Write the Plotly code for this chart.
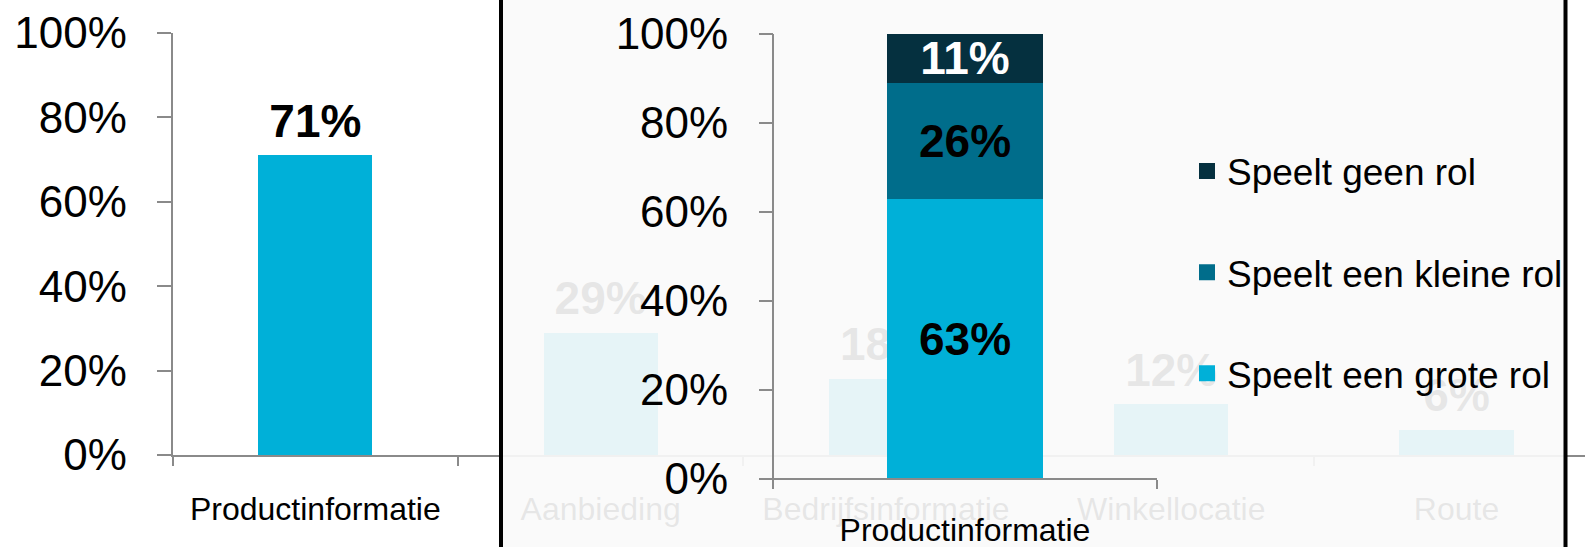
import plotly.graph_objects as go

W, H = 1585, 547

# ---- data ----
categories = ["Productinformatie", "Aanbieding", "Bedrijfsinformatie", "Winkellocatie", "Route"]
values = [71, 29, 18, 12, 6]

stack_categories = ["Productinformatie"]
series_names = ["Speelt een grote rol", "Speelt een kleine rol", "Speelt geen rol"]
speelt_grote = [63]
speelt_kleine = [26]
speelt_geen = [11]

y_tick_vals = [0, 20, 40, 60, 80, 100]
y_tick_text = ["0%", "20%", "40%", "60%", "80%", "100%"]

# ---- style / layout geometry (pixels) ----
FONT = "Liberation Sans, Arial, sans-serif"
CYAN = "#00B0D8"
TEAL = "#006D8B"
DARK = "#05303F"
AXIS = "#8A8A8A"

PANEL_L, PANEL_R = 501, 1565.5           # overlay panel
ST_L, ST_R = 773, 1157                    # stacked chart x-extent
ST_Y0, ST_Y100 = 479, 34                  # stacked chart 0% / 100%


def fx(p):
    return p / W


def fy(p):
    return 1 - p / H


# ranges for the stacked chart axes (they overlay the panel subplot)
_unit = ST_R - ST_L
x3_r0 = -0.5 - (ST_L - PANEL_L) / _unit
x3_range = [x3_r0, x3_r0 + (PANEL_R - PANEL_L) / _unit]
_f0, _f100 = fy(ST_Y0), fy(ST_Y100)
_R = 100 / (_f100 - _f0)
y3_range = [-_f0 * _R, -_f0 * _R + _R]

fig = go.Figure()

# background chart (main)
fig.add_trace(go.Bar(
    x=categories, y=values,
    marker=dict(color=CYAN, line=dict(width=0)),
    width=0.4, xaxis="x", yaxis="y", showlegend=False, hoverinfo="skip",
))
# value labels above the bars
fig.add_trace(go.Scatter(
    x=categories, y=values, mode="markers+text",
    text=[f"{v}%" for v in values], textposition="top center",
    textfont=dict(size=46, color="black", family=FONT, weight="bold"),
    marker=dict(size=10, opacity=0),
    xaxis="x", yaxis="y", showlegend=False, hoverinfo="skip",
))

# overlay panel subplot (its background veils the chart beneath)
fig.add_trace(go.Scatter(x=[None], y=[None], xaxis="x2", yaxis="y2",
                         showlegend=False, hoverinfo="skip"))

# stacked detail chart
stack_series = [speelt_grote, speelt_kleine, speelt_geen]
stack_colors = [CYAN, TEAL, DARK]
stack_text_colors = ["black", "black", "white"]
ranks = [3, 2, 1]
for name, vals, col, tcol, rk in zip(series_names, stack_series, stack_colors,
                                     stack_text_colors, ranks):
    fig.add_trace(go.Bar(
        x=stack_categories, y=vals, name=name, legendgroup=name, showlegend=False,
        text=[f"{v}%" for v in vals], textposition="inside", insidetextanchor="middle",
        constraintext="none",
        textfont=dict(size=46, color=tcol, family=FONT, weight="bold"),
        marker=dict(color=col, line=dict(width=0)),
        width=0.404, xaxis="x3", yaxis="y3", hoverinfo="skip",
    ))
    # legend entry (square swatch)
    fig.add_trace(go.Scatter(
        x=[None], y=[None], mode="markers", name=name, legendgroup=name, legendrank=rk,
        marker=dict(symbol="square", size=19, color=col),
        xaxis="x3", yaxis="y3", hoverinfo="skip",
    ))

hidden_axis = dict(showline=False, showgrid=False, zeroline=False, ticks="",
                   showticklabels=False, fixedrange=True, automargin=False)

fig.update_layout(
    template="none",
    width=W, height=H, autosize=False,
    margin=dict(l=0, r=0, t=0, b=0, pad=0),
    paper_bgcolor="white",
    plot_bgcolor="rgba(250,250,250,0.92)",
    font=dict(family=FONT, color="black"),
    barmode="stack",
    showlegend=True,
    legend=dict(
        x=fx(1187), xanchor="left", y=fy(272.5), yanchor="middle",
        font=dict(size=37, color="black", family=FONT),
        bgcolor="rgba(0,0,0,0)", borderwidth=0,
        traceorder="grouped", tracegroupgap=50, itemsizing="trace",
    ),
    xaxis=dict(
        domain=[fx(172.7), 1.0], anchor="y", type="category", automargin=False,
        range=[-0.5, -0.5 + (W - 172.7) / 285.3],
        tickson="boundaries", ticks="outside", ticklen=9, tickwidth=2, tickcolor=AXIS,
        showline=True, linecolor=AXIS, linewidth=2, showgrid=False, zeroline=False,
        tickfont=dict(size=32, color="black"), ticklabelstandoff=25,
    ),
    yaxis=dict(
        domain=[fy(455), fy(33)], anchor="x", range=[0, 100], automargin=False,
        tickvals=y_tick_vals, ticktext=y_tick_text,
        ticks="outside", ticklen=14, tickwidth=2, tickcolor=AXIS,
        showline=True, linecolor=AXIS, linewidth=2, showgrid=False, zeroline=False,
        tickfont=dict(size=44, color="black"), ticklabelstandoff=21,
    ),
    xaxis2=dict(domain=[fx(PANEL_L), fx(PANEL_R)], anchor="y2", range=[0, 1], **hidden_axis),
    yaxis2=dict(domain=[0, 1], anchor="x2", range=[0, 1], **hidden_axis),
    xaxis3=dict(
        overlaying="x2", anchor="free", position=fy(ST_Y0), type="category",
        range=x3_range, automargin=False, fixedrange=True,
        tickson="boundaries", ticks="outside", ticklen=9, tickwidth=2, tickcolor=AXIS,
        showline=False, showgrid=False, zeroline=False,
        tickfont=dict(size=32, color="black"), ticklabelstandoff=29,
    ),
    yaxis3=dict(
        overlaying="y2", anchor="free", position=fx(ST_L), side="left",
        range=y3_range, automargin=False, fixedrange=True,
        tickvals=y_tick_vals, ticktext=y_tick_text,
        ticks="outside", ticklen=14, tickwidth=2, tickcolor=AXIS,
        showline=False, showgrid=False, zeroline=False,
        tickfont=dict(size=44, color="black"), ticklabelstandoff=22,
    ),
    shapes=[
        # white page behind the main chart (keeps its plot area white)
        dict(type="rect", xref="paper", yref="paper", x0=0, x1=1, y0=0, y1=1,
             line=dict(width=0), fillcolor="white", layer="below"),
        # axis lines of the stacked chart, in its own data coordinates
        dict(type="line", xref="x3", yref="y3", x0=-0.5, x1=0.5, y0=0, y1=0,
             line=dict(color=AXIS, width=2), layer="above"),
        dict(type="line", xref="x3", yref="y3", x0=-0.5, x1=-0.5, y0=0, y1=100,
             line=dict(color=AXIS, width=2), layer="above"),
        # black frame of the overlay panel
        dict(type="rect", xref="paper", yref="paper",
             x0=fx(PANEL_L), x1=fx(PANEL_R), y0=-0.05, y1=1.05,
             line=dict(color="black", width=4), fillcolor="rgba(0,0,0,0)", layer="above"),
    ],
)

fig.write_html(
    "out.html",
    config={"displayModeBar": False},
    post_script="document.body.style.margin='0';document.body.style.overflow='hidden';",
)
